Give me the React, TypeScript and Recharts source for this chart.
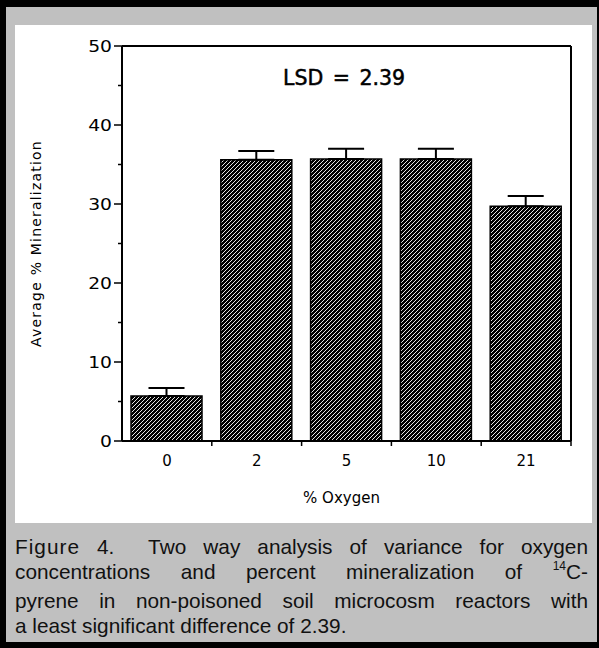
import { Bar, BarChart, ErrorBar, ReferenceLine, XAxis, YAxis } from "recharts";

const oxygen = ["0", "2", "5", "10", "21"];
const mineralization = [5.7, 35.6, 35.7, 35.7, 29.7];
const upperError = [1.0, 1.1, 1.3, 1.3, 1.3];
const yTicks = [0, 5, 10, 15, 20, 25, 30, 35, 40, 45, 50];

const data = oxygen.map((o, i) => ({
  oxygen: o,
  value: mineralization[i],
  err: [0, upperError[i]],
}));

const chartFont = "'DejaVu Sans', Verdana, sans-serif";
const captionFont = "'Liberation Sans', Arial, sans-serif";

// y ticks: long tick + label every 10, short tick at the 5s
const YTick = (props: any) => {
  const { x, y, payload } = props;
  const major = payload.value % 10 === 0;
  return (
    <g>
      <line x1={x - (major ? 8 : 4)} y1={y} x2={x} y2={y} stroke="#000" strokeWidth={1.5} />
      {major && (
        <text
          transform={`translate(${x - 10},${y + 5.5}) scale(1.25,1)`}
          textAnchor="end"
          fontSize={15}
          fontFamily={chartFont}
          fill="#000"
        >
          {payload.value}
        </text>
      )}
    </g>
  );
};

// x ticks sit between the bars, labels under the bar centres
const XTick = (props: any) => {
  const { x, y, payload } = props;
  const half = payload.offset ?? 45;
  return (
    <g>
      <line x1={x + half} y1={y} x2={x + half} y2={y + 5} stroke="#000" strokeWidth={1.5} />
      <text x={x} y={y + 25} textAnchor="middle" fontSize={15} fontFamily={chartFont} fill="#000">
        {payload.value}
      </text>
    </g>
  );
};

const captionLine = { textAlign: "justify" as const, textAlignLast: "justify" as const, whiteSpace: "nowrap" as const };

export default function App() {
  return (
    <div style={{ position: "absolute", left: 0, top: 0, width: 599, height: 648, background: "#000" }}>
      <div style={{ position: "absolute", left: 6, top: 7, width: 591, height: 635, background: "#c0c0c0" }} />
      <div style={{ position: "absolute", left: 15, top: 25, width: 577, height: 498, background: "#fff" }} />
      <div style={{ position: "absolute", left: 0, top: 0 }}>
        <BarChart width={599} height={523} data={data} margin={{ top: 46, right: 27, bottom: 22, left: 22 }}>
          <defs>
            <pattern id="hatch" patternUnits="userSpaceOnUse" width="4" height="4">
              <rect width="4" height="4" fill="#000" />
              <path d="M-1,1 l2,-2 M0,4 l4,-4 M3,5 l2,-2" stroke="#fff" strokeWidth={0.9} />
            </pattern>
          </defs>
          <XAxis
            dataKey="oxygen"
            height={60}
            tick={<XTick />}
            tickLine={false}
            tickSize={0}
            tickMargin={0}
            interval={0}
            axisLine={{ stroke: "#000", strokeWidth: 2 }}
            label={{
              value: "% Oxygen",
              position: "insideBottom",
              offset: -2,
              dx: -5,
              style: { fontSize: 15, fontFamily: chartFont, fill: "#000" },
            }}
          />
          <YAxis
            width={100}
            domain={[0, 50]}
            ticks={yTicks}
            interval={0}
            tick={<YTick />}
            tickLine={false}
            tickSize={0}
            tickMargin={0}
            axisLine={{ stroke: "#000", strokeWidth: 2 }}
            label={{
              value: "Average % Mineralization",
              angle: -90,
              position: "insideLeft",
              offset: 14,
              style: { textAnchor: "middle", fontSize: 14, letterSpacing: 1.2, fontFamily: chartFont, fill: "#000" },
            }}
          />
          <YAxis
            yAxisId="frame"
            orientation="right"
            width={1}
            domain={[0, 50]}
            tick={false}
            tickLine={false}
            axisLine={{ stroke: "#000", strokeWidth: 2 }}
          />
          <ReferenceLine y={50} stroke="#000" strokeWidth={2} />
          <Bar dataKey="value" barSize={71} fill="url(#hatch)" stroke="#000" strokeWidth={1.5} isAnimationActive={false}>
            <ErrorBar dataKey="err" direction="y" width={18} stroke="#000" strokeWidth={2} />
          </Bar>
        </BarChart>
      </div>
      <div
        style={{
          position: "absolute",
          left: 283,
          top: 66,
          fontFamily: chartFont,
          fontSize: 20.5,
          wordSpacing: 3,
          WebkitTextStroke: "0.5px #000",
          whiteSpace: "pre",
          color: "#000",
        }}
      >
        {"LSD = 2.39"}
      </div>
      <div
        style={{
          position: "absolute",
          left: 15,
          top: 534,
          width: 573,
          fontFamily: captionFont,
          fontSize: 20.8,
          lineHeight: "25px",
          color: "#111",
        }}
      >
        <div style={captionLine}>
          <span style={{ letterSpacing: 1 }}>Figure</span> 4.&nbsp; Two way analysis of variance for oxygen
        </div>
        <div style={captionLine}>
          concentrations and percent mineralization of{" "}
          <span style={{ fontSize: 12, position: "relative", top: -9 }}>14</span>C-
        </div>
        <div style={captionLine}>pyrene in non-poisoned soil microcosm reactors with</div>
        <div>a least significant difference of 2.39.</div>
      </div>
    </div>
  );
}
